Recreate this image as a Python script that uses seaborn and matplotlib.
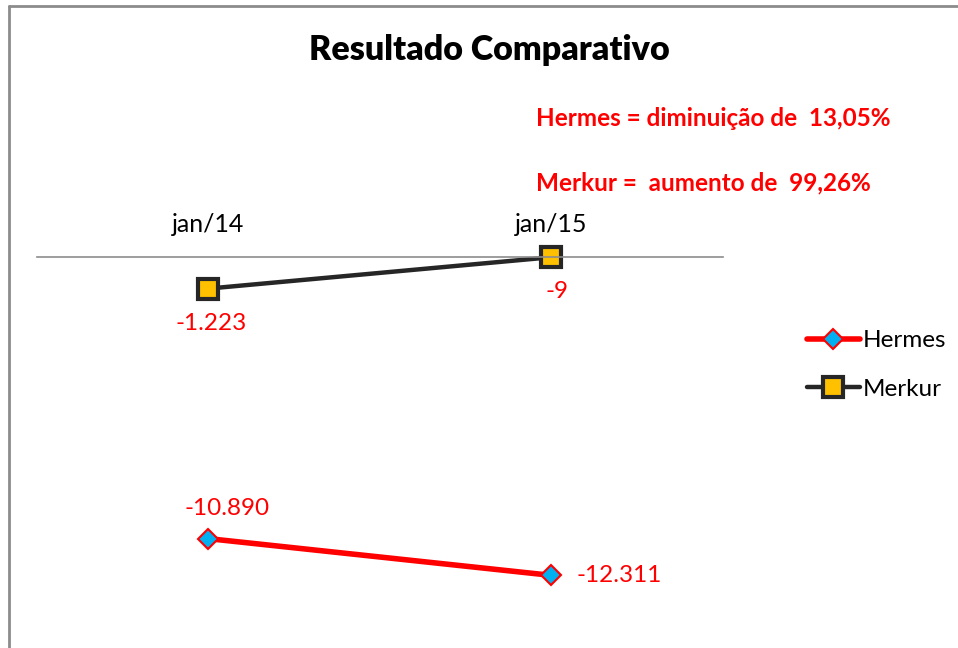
import matplotlib
matplotlib.use("Agg")
import matplotlib.pyplot as plt
import seaborn as sns
import pandas as pd
from matplotlib.lines import Line2D

categories = ["jan/14", "jan/15"]
hermes = [-10890, -12311]
merkur = [-1223, -9]
hermes_labels = ["-10.890", "-12.311"]
merkur_labels = ["-1.223", "-9"]
title = "Resultado Comparativo"
note1 = "Hermes = diminuição de  13,05%"
note2 = "Merkur =  aumento de  99,26%"

sns.set_style("white")
plt.rcParams['font.family'] = ['Lato', 'DejaVu Sans']
plt.rcParams['text.color'] = '#000000'

W, H = 958, 648
fig = plt.figure(figsize=(W / 100, H / 100), dpi=100)

def fx(px):
    return px / W

def fy(py):
    return 1 - py / H

# outer border (top and left visible)
fig.add_artist(Line2D([fx(9), fx(9)], [fy(6), 0], color="#8c8c8c", lw=2.0))
fig.add_artist(Line2D([fx(9), 1], [fy(6), fy(6)], color="#8c8c8c", lw=2.0))

left, right = 36.5, 722.5
top, bottom = 257, 619
ax = fig.add_axes([fx(left), fy(bottom), (right - left) / W, (bottom - top) / H])

df_h = pd.DataFrame({"x": range(len(categories)), "y": hermes})
df_m = pd.DataFrame({"x": range(len(categories)), "y": merkur})

sns.lineplot(data=df_h, x="x", y="y", ax=ax, color="#ff0000", lw=4.0,
             marker="D", markersize=10, markerfacecolor="#00b0f0",
             markeredgecolor="#ff0000", markeredgewidth=1.5, clip_on=False,
             label="Hermes")
sns.lineplot(data=df_m, x="x", y="y", ax=ax, color="#262626", lw=3.2,
             marker="s", markersize=14, markerfacecolor="#ffc000",
             markeredgecolor="#262626", markeredgewidth=3.0, clip_on=False,
             label="Merkur")

ax.set_xlim(-0.5, len(categories) - 0.5)
ax.set_ylim(-14000, 0)
ax.set_xticks(range(len(categories)))
ax.set_xticklabels(categories, fontsize=18, color="#000000")
ax.xaxis.tick_top()
ax.tick_params(axis="x", length=0, pad=15)
ax.set_yticks([])
ax.set_xlabel("")
ax.set_ylabel("")
for s in ["left", "right", "bottom"]:
    ax.spines[s].set_visible(False)
ax.spines["top"].set_color("#8c8c8c")
ax.spines["top"].set_linewidth(1.2)
ax.patch.set_alpha(0)

# data labels
lab_fs = 17.5
ax.annotate(merkur_labels[0], (0, merkur[0]), xytext=(2, -25), textcoords="offset points",
            ha="center", va="center", color="#ff0000", fontsize=lab_fs)
ax.annotate(merkur_labels[1], (1, merkur[1]), xytext=(4, -25), textcoords="offset points",
            ha="center", va="center", color="#ff0000", fontsize=lab_fs)
ax.annotate(hermes_labels[0], (0, hermes[0]), xytext=(14, 22), textcoords="offset points",
            ha="center", va="center", color="#ff0000", fontsize=lab_fs)
ax.annotate(hermes_labels[1], (1, hermes[1]), xytext=(18, 0), textcoords="offset points",
            ha="left", va="center", color="#ff0000", fontsize=lab_fs)

leg = ax.legend(loc="center left", bbox_to_anchor=((797 - left) / (right - left), 1 - (365 - top) / (bottom - top)),
                frameon=False, fontsize=17.5, handlelength=2.2, labelspacing=1.15,
                handletextpad=0.1, borderaxespad=0)
for t in leg.get_texts():
    t.set_color("#000000")

fig.text(fx(489), fy(50), title, ha="center", va="center", fontsize=24.5, fontweight="heavy",
         color="#000000")
fig.text(fx(536), fy(118), note1, ha="left", va="center", fontsize=17.5, fontweight="bold", color="#ff0000")
fig.text(fx(536), fy(183), note2, ha="left", va="center", fontsize=17.5, fontweight="bold", color="#ff0000")

fig.savefig("out.png", dpi=100)
